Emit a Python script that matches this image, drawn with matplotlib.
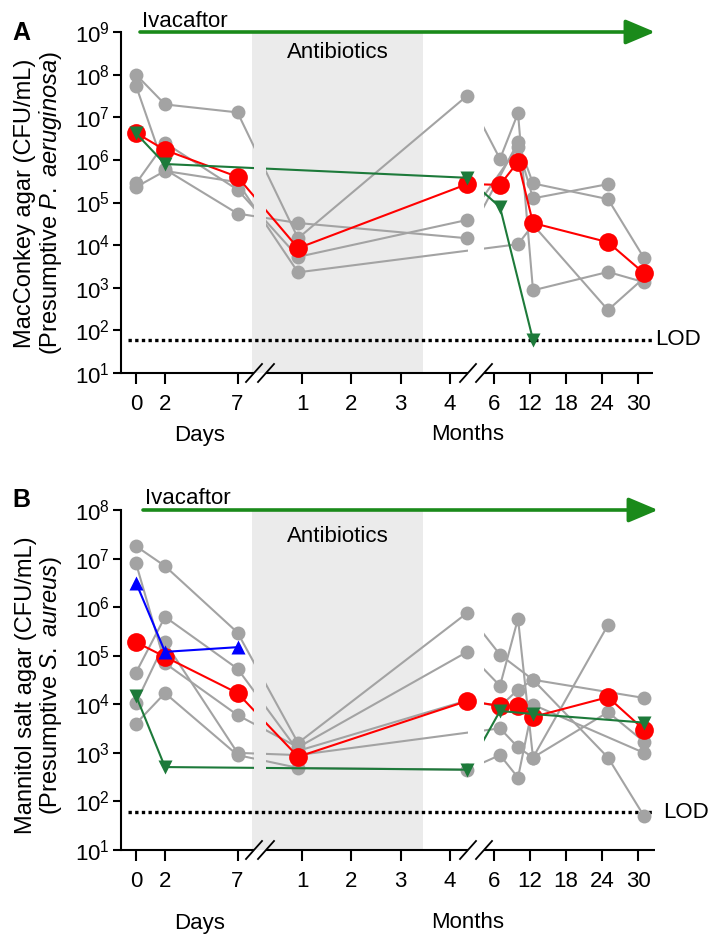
import numpy as np
import matplotlib
matplotlib.use("Agg")
import matplotlib.pyplot as plt
from matplotlib.patches import Rectangle
from matplotlib.transforms import blended_transform_factory
from matplotlib.ticker import LogLocator, LogFormatterSciNotation, NullLocator

plt.rcParams['font.family'] = ['Liberation Sans', 'DejaVu Sans']
plt.rcParams['mathtext.fontset'] = 'custom'
plt.rcParams['mathtext.rm'] = 'Liberation Sans'
plt.rcParams['mathtext.it'] = 'Liberation Sans:italic'
plt.rcParams['mathtext.bf'] = 'Liberation Sans:bold'

nan = np.nan

# sampling times: segment of the broken x axis + value (days / months)
time_seg = ['d', 'd', 'd', 'm1', 'm1', 'm2', 'm2', 'm2', 'm2', 'm2']
time_val = [0, 2, 7, 0.92, 4.35, 7, 10, 12.5, 25, 31]

day_ticks = [0, 2, 7]
month_ticks_1 = [1, 2, 3, 4]
month_ticks_2 = [6, 12, 18, 24, 30]

LOD = 60  # CFU/mL

# Panel A - MacConkey agar (presumptive P. aeruginosa), CFU/mL
a_gray = [
    [1e8, 2e7, 1.3e7, 1.45e4, 3.2e7, 1.05e6, 1.25e7, 870, 2.35e3, 1.35e3],
    [5.5e7, 6e5, 5.5e4, 3.3e4, 1.45e4, nan, 2.6e6, 2.8e5, 1.2e5, 5e3],
    [2.8e5, 2.5e6, 2e5, 5.3e3, 3.9e4, nan, 2e6, 1.25e5, 2.7e5, nan],
    [2.3e5, 5.5e5, 3e5, 2.3e3, nan, nan, 1.05e4, 3e4, 300, 1.7e3],
]
a_red = [4.3e6, 1.7e6, 4e5, 8.5e3, 2.7e5, 2.6e5, 9e5, 3.3e4, 1.17e4, 2.2e3]
a_green = [4.2e6, 8e5, nan, nan, 3.8e5, 7.8e4, nan, 60, nan, nan]

# Panel B - Mannitol salt agar (presumptive S. aureus), CFU/mL
b_gray = [
    [1.8e7, 7e6, 3e5, 1.6e3, 7.6e5, 1.05e5, nan, 3.2e4, nan, 1.35e4],
    [8e6, 7e4, 6e3, 1.3e3, 1.2e5, 2.4e4, 5.8e5, 800, 4.3e5, nan],
    [4.5e4, 6.3e5, 5.4e4, 1.1e3, 1.2e4, 9e3, 2e4, 3.2e4, 800, 50],
    [1.07e4, 1.9e5, 1e3, 900, nan, 3.2e3, 1.3e3, 800, 6.9e3, 1.7e3],
    [4e3, 1.7e4, 900, 490, 450, 900, 310, 9.8e3, nan, 1e3],
]
b_red = [1.9e5, 9.5e4, 1.7e4, 830, 1.17e4, 9.3e3, 9.2e3, 5.5e3, 1.4e4, 3e3]
b_green = [1.5e4, 510, nan, nan, 450, 7.3e3, nan, 6.3e3, nan, 4.2e3]
b_blue = [3.2e6, 1.2e5, 1.5e5, nan, nan, nan, nan, nan, nan, nan]

GRAY = '#a3a3a3'
RED = '#ff0000'
GREEN = '#1d7a3a'
ARROW_GREEN = '#1a8a1a'
BLUE = '#0000ff'
SHADE = '#ebebeb'

# broken axis: x data units are pixels of the final picture
SEG_X = {'d': (136, 14.5, 0), 'm1': (302, 49.3, 1), 'm2': (494, 6.0, 6)}
GAPS = [(254, 266), (468, 484)]


def xpos(seg, v):
    x0, k, v0 = SEG_X[seg]
    return x0 + k * (np.asarray(v, float) - v0)


xs = np.array([xpos(s, v) for s, v in zip(time_seg, time_val)])

W, H = 713, 935
fig = plt.figure(figsize=(W / 100, H / 100), dpi=100)


def draw_series(ax, ys, color, lw, ms, marker, z, segs, trans):
    ys = np.asarray(ys, float)
    ok = ~np.isnan(ys)
    for lo, hi in segs:
        ln, = ax.plot(xs[ok], ys[ok], color=color, lw=lw, zorder=z,
                      solid_capstyle='butt')
        ln.set_clip_path(Rectangle((lo, -1), hi - lo, 3, transform=trans))
    ax.plot(xs[ok], ys[ok], ls='none', marker=marker, ms=ms, mfc=color,
            mec='none', zorder=z + 0.5, clip_on=False)


def draw_panel(cfg):
    left, right, top, bottom = cfg['box']
    ax = fig.add_axes([left / W, 1 - bottom / H, (right - left) / W, (bottom - top) / H])
    h = bottom - top
    xmin, xmax = left, right
    ax.set_xlim(xmin, xmax)
    ax.set_yscale('log')
    ax.set_ylim(*cfg['ylim'])
    trans = blended_transform_factory(ax.transData, ax.transAxes)

    for s in ['top', 'right', 'bottom']:
        ax.spines[s].set_visible(False)
    ax.spines['left'].set_linewidth(1.5)

    ax.yaxis.set_major_locator(LogLocator(base=10, numticks=20))
    ax.yaxis.set_major_formatter(LogFormatterSciNotation())
    ax.yaxis.set_minor_locator(NullLocator())
    ax.tick_params(axis='y', direction='out', length=6, width=1.5, pad=2, labelsize=16)

    tick_pos = ([xpos('d', t) for t in day_ticks] + [xpos('m1', t) for t in month_ticks_1]
                + [xpos('m2', t) for t in month_ticks_2])
    tick_lab = [str(t) for t in day_ticks + month_ticks_1 + month_ticks_2]
    ax.set_xticks(tick_pos)
    ax.set_xticklabels(tick_lab)
    ax.tick_params(axis='x', direction='out', length=8, width=1.5, pad=7, labelsize=16)

    # x axis line with the two breaks
    pieces = [(xmin, GAPS[0][0]), (GAPS[0][1], GAPS[1][0]), (GAPS[1][1], xmax)]
    for lo, hi in pieces:
        ax.plot([lo, hi], [0, 0], transform=trans, color='k', lw=1.5,
                clip_on=False, solid_capstyle='butt', zorder=10)
    dy = 9 / h
    for g in GAPS:
        for xc in g:
            ax.plot([xc - 8, xc + 8], [-dy, dy], transform=trans, color='k',
                    lw=1.3, clip_on=False, zorder=10)

    # antibiotics shading
    a0, a1 = xpos('d', 8), xpos('m1', 3.45)
    ax.axvspan(a0, a1, color=SHADE, zorder=0, lw=0)
    ax.text((a0 + a1) / 2, 1 - cfg['anti_dy'] / h, 'Antibiotics', transform=trans,
            ha='center', va='center', fontsize=16)

    # ivacaftor arrow
    ax.annotate('', xy=(cfg['arrow'][1], 1.0), xytext=(cfg['arrow'][0], 1.0),
                xycoords=trans, textcoords=trans, annotation_clip=False,
                arrowprops=dict(arrowstyle='-|>,head_length=0.9,head_width=0.38',
                                color=ARROW_GREEN, lw=2.6, mutation_scale=20,
                                shrinkA=0, shrinkB=0))
    ax.text(cfg['arrow'][0] + 2, 1 + cfg['iva_dy'] / h, 'Ivacaftor', transform=trans,
            ha='left', va='baseline', fontsize=16)

    # limit of detection
    ax.plot([128, 653], [LOD, LOD], color='k', lw=2.4, ls=(0, (1, 1)),
            dash_capstyle='butt', zorder=1, clip_on=False)
    ax.text(cfg['lod_x'], LOD, 'LOD', ha='left', va='center', fontsize=16,
            clip_on=False)

    segs = [(xmin - 30, GAPS[0][0]), (GAPS[0][1], GAPS[1][0]), (GAPS[1][1], xmax + 30)]
    for ys in cfg['gray']:
        draw_series(ax, ys, GRAY, 1.5, 10, 'o', 2, segs, trans)
    draw_series(ax, cfg['red'], RED, 1.5, 13.5, 'o', 4, segs, trans)
    draw_series(ax, cfg['green'], GREEN, 1.5, 10.5, 'v', 6, segs, trans)
    if cfg['blue'] is not None:
        draw_series(ax, cfg['blue'], BLUE, 1.5, 10.5, '^', 6, segs, trans)

    # axis titles
    ax.text(xpos('d', 4.4), -cfg['days_dy'] / h, 'Days', transform=trans,
            ha='center', va='center', fontsize=16)
    ax.text(xpos('m1', 4.35), -cfg['days_dy'] / h, 'Months', transform=trans,
            ha='center', va='center', fontsize=16)

    fig.text(39.5 / W, 1 - cfg['ylab_y'] / H, cfg['ylabel'], rotation=90,
             ha='center', va='center', multialignment='center', fontsize=17,
             linespacing=1.05)
    fig.text(12 / W, 1 - cfg['letter_y'] / H, cfg['letter'], fontsize=18,
             fontweight='bold', ha='left', va='baseline')
    return ax


draw_panel(dict(
    box=(121, 653, 32, 373), ylim=(1e1, 1e9), gray=a_gray, red=a_red,
    green=a_green, blue=None, anti_dy=20, arrow=(140, 655), iva_dy=5,
    lod_x=655, days_dy=62, ylab_y=203, letter='A', letter_y=40,
    ylabel='MacConkey agar (CFU/mL)\n(Presumptive $\\mathit{P.}$ $\\mathit{aeruginosa}$)'))

draw_panel(dict(
    box=(121, 655, 510, 850), ylim=(1e1, 1e8), gray=b_gray, red=b_red,
    green=b_green, blue=b_blue, anti_dy=27, arrow=(143, 658), iva_dy=6,
    lod_x=663, days_dy=73, ylab_y=685, letter='B', letter_y=507,
    ylabel='Mannitol salt agar (CFU/mL)\n(Presumptive $\\mathit{S.}$ $\\mathit{aureus}$)'))

fig.savefig('out.png', dpi=100)
